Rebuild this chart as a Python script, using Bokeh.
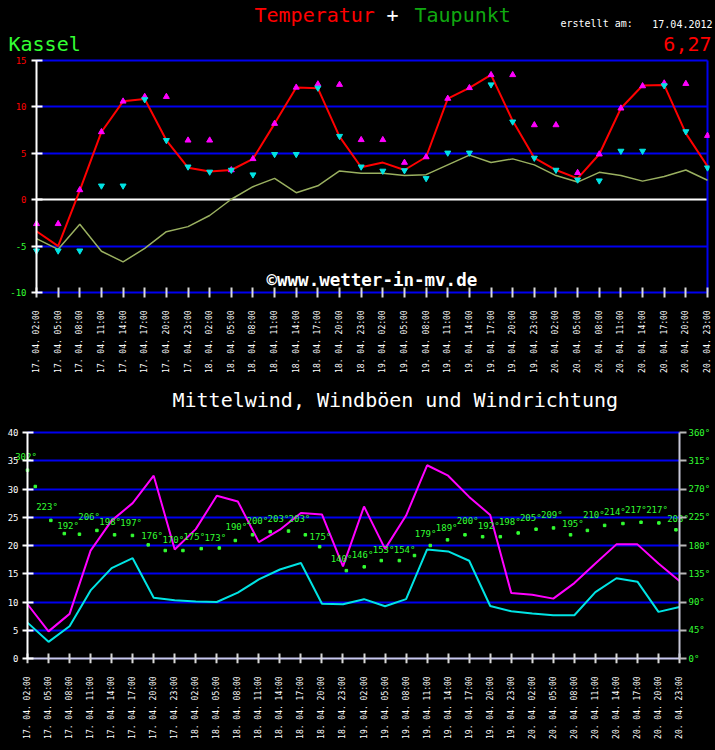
import math
from bokeh.plotting import figure
from bokeh.models import Range1d, LinearAxis, FixedTicker, Label, PrintfTickFormatter, Grid
from bokeh.core.properties import value
from bokeh.embed import file_html
from bokeh.resources import INLINE

# ---------------- data ----------------
days = ["17. 04."] * 8 + ["18. 04."] * 8 + ["19. 04."] * 8 + ["20. 04."] * 8
hours = ["02:00", "05:00", "08:00", "11:00", "14:00", "17:00", "20:00", "23:00"] * 4
idx = list(range(32))

temp = [-3.4, -5.0, 1.0, 7.3, 10.6, 10.85, 6.4, 3.45, 3.05, 3.2, 4.4, 8.2, 12.1, 12.0, 6.8, 3.5,
        4.0, 3.2, 4.6, 10.9, 12.05, 13.45, 8.5, 4.5, 3.2, 2.3, 4.9, 9.85, 12.3, 12.35, 7.15, 3.6]
dew = [-4.2, -5.35, -2.65, -5.55, -6.7, -5.25, -3.45, -2.9, -1.7, 0.05, 1.4, 2.3, 0.75, 1.5, 3.1, 2.85,
       2.85, 2.6, 2.7, 3.75, 4.8, 4.0, 4.4, 3.75, 2.6, 1.9, 2.95, 2.6, 2.0, 2.5, 3.2, 2.1]
tmax = [-2.6, -2.6, 1.05, 7.3, 10.6, 11.1, 11.1, 6.4, 6.4, 3.2, 4.4, 8.2, 12.1, 12.45, 12.4, 6.45,
        6.45, 4.0, 4.6, 10.9, 12.05, 13.45, 13.45, 8.05, 8.05, 2.9, 4.9, 9.85, 12.25, 12.55, 12.5, 6.9]
tmin = [-5.5, -5.5, -5.5, 1.5, 1.5, 10.8, 6.4, 3.55, 3.0, 3.2, 2.7, 4.9, 4.9, 12.05, 6.85, 3.55,
        3.1, 3.15, 2.3, 5.05, 5.05, 12.4, 8.4, 4.5, 3.2, 2.15, 2.05, 5.25, 5.25, 12.3, 7.35, 3.45]

gust = [9.6, 4.8, 7.9, 19.1, 24.4, 27.5, 32.35, 19.3, 22.9, 28.8, 27.8, 20.6, 22.8, 25.75, 25.5, 16.3,
        26.9, 19.4, 25.3, 34.2, 32.35, 28.6, 25.4, 11.6, 11.3, 10.6, 13.35, 16.8, 20.2, 20.2, 16.8, 13.7]
mean = [6.35, 2.95, 5.7, 12.05, 16.0, 17.75, 10.75, 10.3, 10.1, 10.0, 11.65, 14.0, 15.75, 16.9, 9.7, 9.6,
        10.5, 9.25, 10.5, 19.3, 18.95, 17.3, 9.3, 8.35, 7.95, 7.65, 7.65, 11.75, 14.2, 13.6, 8.25, 9.1]
dirs = [302, 223, 192, 206, 198, 197, 176, 170, 175, 173, 190, 200, 203, 203, 175, 140,
        146, 153, 154, 179, 189, 200, 192, 198, 205, 209, 195, 210, 214, 217, 217, 203]
dot_pos = [0.0, 0.37, 1.11, 1.75, 2.47, 3.30, 4.14, 4.99, 5.74, 6.55, 7.39, 8.26, 9.12, 9.88, 10.70,
           11.54, 12.41, 13.21, 13.89, 15.16, 16.01, 16.82, 17.68, 18.40, 19.15, 19.97, 20.80, 21.64,
           22.48, 23.33, 24.18, 25.01, 25.82, 26.62, 27.44, 28.31, 29.17, 30.02, 30.83]
dot_dir = [300, 274, 220, 199, 198, 204, 197, 196, 181, 172, 172, 175, 176, 188, 197, 202, 203, 197,
           178, 140, 146, 156, 156, 164, 180, 189, 197, 194, 194, 200, 206, 208, 197, 204, 212, 215,
           217, 216, 205]

temp_ticks = [-10, -5, 0, 5, 10, 15]
wind_ticks = [0, 5, 10, 15, 20, 25, 30, 35, 40]
deg_ticks = [0, 45, 90, 135, 180, 225, 270, 315, 360]

# ---------------- style ----------------
MONO = "DejaVu Sans Mono"
BLUE = "#0000f0"
RED = "#ff0000"
GREEN = "#33ff33"
DGREEN = "#10a810"
MAG = "#ff00ff"
CYAN = "#00e4e4"
OLIVE = "#9ab060"
TICK = "#d8d8d8"

xlabels = {i: f"{d}  {h}" for i, (d, h) in enumerate(zip(days, hours))}
N = len(idx) - 1
TLO, THI = temp_ticks[0], temp_ticks[-1]
WLO, WHI = wind_ticks[0], wind_ticks[-1]
DLO, DHI = deg_ticks[0], deg_ticks[-1]
DEG_PER = DHI / WHI

W = 715
# heights of the stacked blocks: header, top chart, header, bottom chart
HH1, H1, HH2, H2 = 55, 325, 44, 326
Y2 = HH1 + H1 + HH2                  # top of the bottom chart canvas
# top chart: data area 36..707 x 60..292 px; its frame reaches further out (0..709 x 55..297)
DL, DR, DT, DB = 36, 707, 60, 292
FL, FR, FT, FB = 0, 709, 55, 297
PXX = (DR - DL) / N
PXY = (DB - DT) / (THI - TLO)
# bottom chart: data area 27..679 x 432..658 px; frame 0..715 x 424..663
EL, ER, ET, EB = 27, 679, 432, 658
GL, GR, GT, GB = 0, 715, 424, 663
QXX = (ER - EL) / N
QXY = (EB - ET) / (WHI - WLO)


def p1x(px):
    return (px - DL) / PXX


def p1y(py_abs):
    return THI - (py_abs - DT) / PXY


def p2x(px):
    return (px - EL) / QXX


def p2y(py_abs):
    return WHI - (py_abs - ET) / QXY


def lab(p, x, y, text, color, size, align="left", bold=False):
    p.add_layout(Label(x=x, y=y, text=text, text_color=color, text_font=MONO,
                       text_font_size=size, text_align=align, text_baseline="middle",
                       text_font_style="bold" if bold else "normal"))


def header(h):
    f = figure(width=W, height=h, x_range=Range1d(0, W), y_range=Range1d(h, 0),
               x_axis_type=None, y_axis_type=None, output_backend="svg",
               toolbar_location=None, tools="", title=None, min_border=0,
               background_fill_color="black", border_fill_color="black",
               outline_line_color=None)
    f.grid.visible = False
    return f


def style_xaxis(ax):
    ax.ticker = FixedTicker(ticks=idx)
    ax.major_label_overrides = xlabels
    ax.major_label_orientation = math.pi / 2
    ax.major_label_text_font = MONO
    ax.major_label_text_font_size = "8px"
    ax.major_label_text_color = "white"
    ax.major_label_standoff = 8
    ax.major_tick_in = 5
    ax.major_tick_out = 5
    ax.major_tick_line_color = TICK
    ax.major_tick_line_width = 2
    ax.minor_tick_line_color = None


def style_yaxis(ax, color, tin, tout, line_color, standoff):
    ax.major_label_text_color = color
    ax.major_label_text_font = MONO
    ax.major_label_text_font_size = "9px"
    ax.major_label_standoff = standoff
    ax.axis_line_color = line_color
    ax.axis_line_width = 2
    ax.major_tick_in = tin
    ax.major_tick_out = tout
    ax.major_tick_line_color = line_color
    ax.major_tick_line_width = 2
    ax.minor_tick_line_color = None


def grid(dim, ticks, color, cross):
    kw = dict(dimension=dim, ticker=FixedTicker(ticks=ticks), grid_line_color=color, grid_line_width=2)
    try:
        return Grid(cross_bounds=cross, **kw)
    except Exception:
        return Grid(**kw)


# ---------------- header 1 ----------------
h1 = header(HH1)
lab(h1, 254, 14, "Temperatur", RED, "20px")
lab(h1, 386, 14, "+", "white", "20px")
lab(h1, 414, 14, "Taupunkt", DGREEN, "20px")
lab(h1, 560, 23, "erstellt am:", "white", "10px")
lab(h1, 712, 23, "17.04.2012", "white", "10px", align="right")
lab(h1, 8, 43.5, "Kassel", GREEN, "20px")
lab(h1, 711, 43.5, "6,27", RED, "20px", align="right")

# ---------------- top chart ----------------
p1 = figure(width=W, height=H1,
            x_range=Range1d(p1x(FL), p1x(FR)), y_range=Range1d(p1y(FB), p1y(FT)),
            y_axis_location=None,
            output_backend="svg", toolbar_location=None, tools="", title=None,
            background_fill_color="black", border_fill_color="black",
            min_border_left=FL, min_border_right=W - FR, min_border_top=FT - HH1,
            min_border_bottom=HH1 + H1 - FB, outline_line_color=None)
p1.xgrid.visible = False
p1.ygrid.visible = False
p1.add_layout(grid(1, [t for t in temp_ticks if t != 0], BLUE, (0, N)))
p1.add_layout(grid(1, [0], "white", (0, N)))
p1.add_layout(grid(0, [N], BLUE, (TLO, THI)))

xa = p1.xaxis[0]
style_xaxis(xa)
xa.axis_line_color = None
xa.major_tick_in = 10
xa.major_tick_out = 0

ya = LinearAxis(ticker=FixedTicker(ticks=temp_ticks), fixed_location=0, bounds=(TLO, THI))
style_yaxis(ya, RED, 6, 5, "white", 5)
ya.major_label_overrides = {t: "" for t in temp_ticks if t < 0}
p1.add_layout(ya, "left")

# green labels of the negative ticks, at the same place as the axis labels
neg_ticks = [t for t in temp_ticks if t < 0]
p1.text(x=[p1x(DL - 10)] * len(neg_ticks), y=neg_ticks, text=[str(t) for t in neg_ticks],
        text_align="right", text_baseline="middle", text_font=value(MONO),
        text_font_size="9px", text_color=GREEN)

p1.line(idx, dew, line_color=OLIVE, line_width=1.5)
p1.line(idx, temp, line_color=RED, line_width=2)
p1.scatter(idx, tmax, marker="triangle", size=6, color=MAG)
p1.scatter(idx, tmin, marker="inverted_triangle", size=6, color=CYAN)

lab(p1, p1x(266), p1y(279), "©www.wetter-in-mv.de", "white", "17.5px", bold=True)

# ---------------- header 2 ----------------
h2 = header(HH2)
lab(h2, 172, 19.5, "Mittelwind, Windböen und Windrichtung", "white", "20px")

# ---------------- bottom chart ----------------
p2 = figure(width=W, height=H2,
            x_range=Range1d(p2x(GL), p2x(GR)), y_range=Range1d(p2y(GB), p2y(GT)),
            y_axis_location=None,
            output_backend="svg", toolbar_location=None, tools="", title=None,
            background_fill_color="black", border_fill_color="black",
            min_border_left=GL, min_border_right=W - GR, min_border_top=GT - Y2,
            min_border_bottom=Y2 + H2 - GB, outline_line_color=None)
p2.extra_y_ranges = {"deg": Range1d(p2y(GB) * DEG_PER, p2y(GT) * DEG_PER)}
p2.xgrid.visible = False
p2.ygrid.visible = False
p2.add_layout(grid(1, [t for t in wind_ticks if t != WLO], BLUE, (0, N)))

# x axis: labels in the bottom panel, line and ticks pinned at wind = 0
xl = p2.xaxis[0]
style_xaxis(xl)
xl.axis_line_color = None
xl.major_tick_line_color = None
xl.major_tick_in = 0
xl.major_tick_out = 0
xl.major_label_standoff = 8

xr = LinearAxis(ticker=FixedTicker(ticks=idx), fixed_location=WLO, bounds=(0, N))
style_xaxis(xr)
xr.major_label_overrides = {i: "" for i in idx}
xr.axis_line_color = "#c8c8f0"
xr.axis_line_width = 2
p2.add_layout(xr, "below")

ya2 = LinearAxis(ticker=FixedTicker(ticks=wind_ticks), fixed_location=0, bounds=(WLO, WHI))
style_yaxis(ya2, "white", 6, 5, "white", 4)
p2.add_layout(ya2, "left")

ra = LinearAxis(y_range_name="deg", ticker=FixedTicker(ticks=deg_ticks), fixed_location=N,
                bounds=(DLO, DHI), formatter=PrintfTickFormatter(format="%d°"))
style_yaxis(ra, GREEN, 0, 7, "#c8c8d8", 2)
ra.major_tick_line_color = "#b8b8b8"
p2.add_layout(ra, "right")

p2.line(idx, gust, line_color=MAG, line_width=2)
p2.line(idx, mean, line_color=CYAN, line_width=2)
p2.scatter(dot_pos, dot_dir, y_range_name="deg", marker="square", size=2.5, color=GREEN)
p2.text(x=idx, y=dirs, text=[f"{d}°" for d in dirs], y_range_name="deg",
        text_align="center", text_baseline="middle", x_offset=-1.5, y_offset=-12,
        text_font=value(MONO), text_font_size="9px", text_color=GREEN)

html = file_html([h1, p1, h2, p2], INLINE)
html = html.replace("</head>", "<style>html,body{margin:0;padding:0;background:#000000;}</style></head>", 1)
open("out.html", "w").write(html)
